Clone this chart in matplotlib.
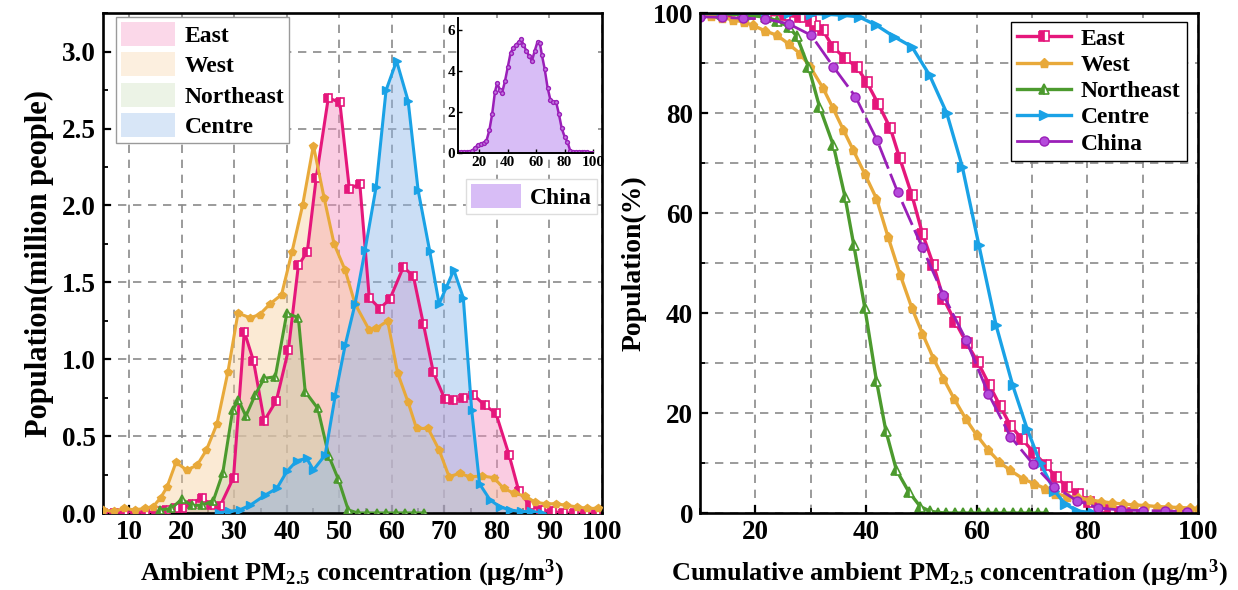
import numpy as np
import matplotlib
matplotlib.use("Agg")
import matplotlib.pyplot as plt
from matplotlib.patches import Patch
from matplotlib.ticker import MultipleLocator, FormatStrFormatter

plt.rcParams['font.family'] = ['Liberation Serif', 'DejaVu Serif']
plt.rcParams['font.weight'] = 'bold'
plt.rcParams['axes.labelweight'] = 'bold'
plt.rcParams['mathtext.fontset'] = 'custom'
plt.rcParams['mathtext.rm'] = 'Liberation Serif:bold'
plt.rcParams['mathtext.it'] = 'Liberation Serif:italic:bold'
plt.rcParams['mathtext.bf'] = 'Liberation Serif:bold'

# colours
pink = "#E5177B"
gold = "#E8A93A"
green = "#4C9A2E"
blue = "#1AA2E6"
purple = "#9A1FB8"

# ---- left panel: population distribution (million people) ----
east_x = [5, 7, 9, 11, 13, 15, 17, 18.8, 20, 21.9, 23.8, 25.6, 27.3, 29.85, 31.9, 33.65, 35.7, 38, 40.3,
          42.2, 43.9, 45.6, 47.9, 50.1, 51.9, 53.9, 55.7, 57.7, 59.6, 62.2, 64.1, 66, 67.9, 70.1, 71.7,
          73.6, 75.5, 77.7, 79.8, 82.3, 84.2, 86.3, 88.4, 90.5, 92.6, 94.7, 96.8, 98.9]
east_y = [0, 0, 0, 0, 0, 0.01, 0.02, 0.03, 0.03, 0.06, 0.10, 0.05, 0.045, 0.23, 1.18, 0.99, 0.60, 0.73, 1.06,
          1.61, 1.70, 2.18, 2.70, 2.67, 2.11, 2.14, 1.40, 1.33, 1.39, 1.60, 1.54, 1.23, 0.915, 0.74, 0.735,
          0.745, 0.77, 0.70, 0.65, 0.38, 0.14, 0.05, 0.02, 0.01, 0, 0, 0, 0]

west_x = [5, 7, 9, 11, 13, 14.5, 16, 17.2, 18.9, 20.9, 22.9, 24.7, 26.7, 28.8, 30.7, 33, 34.8, 36.8, 39,
          41, 43, 45.06, 47.1, 49, 51.1, 53, 55.7, 57, 59.2, 61.1, 63.1, 64.7, 66.9, 69, 70.9, 72.9, 74.8,
          77.2, 79.4, 81.3, 83.2, 85.4, 87.3, 89.3, 91.3, 93.2, 95.2, 97.2, 99.2]
west_y = [0.02, 0.01, 0.03, 0.02, 0.03, 0.04, 0.10, 0.17, 0.33, 0.28, 0.31, 0.41, 0.58, 0.92, 1.30, 1.27,
          1.29, 1.36, 1.42, 1.70, 2.0, 2.39, 2.05, 1.75, 1.58, 1.36, 1.19, 1.20, 1.25, 0.91, 0.72, 0.55,
          0.55, 0.41, 0.236, 0.258, 0.236, 0.24, 0.23, 0.16, 0.13, 0.11, 0.07, 0.06, 0.06, 0.05, 0.04,
          0.03, 0.03]

ne_x = [15.9, 18, 20, 21.9, 23.8, 26, 27.8, 29.7, 30.8, 32.2, 34, 35.7, 37.8, 40, 42.2, 43.5, 45.9, 48,
        49.8, 51.7, 53.5, 55.3, 57.1, 58.9, 60.7, 62.5, 64.3, 66.1]
ne_y = [0.02, 0.03, 0.09, 0.05, 0.05, 0.08, 0.26, 0.67, 0.735, 0.63, 0.77, 0.876, 0.886, 1.30, 1.27, 0.79,
        0.68, 0.37, 0.22, 0.02, 0, 0, 0, 0, 0, 0, 0, 0]

centre_x = [27, 29, 31, 33, 35.9, 38.1, 40, 41.9, 43.8, 45.06, 47.3, 49.2, 51.1, 53, 54.9, 57, 58.9, 60.9,
            63.1, 65, 67.2, 69, 70.4, 71.8, 73.6, 75.2, 76.7, 78.7, 80.6, 82.5, 84.5, 86.5, 88.5]
centre_y = [0, 0.01, 0.02, 0.05, 0.117, 0.16, 0.27, 0.34, 0.355, 0.28, 0.377, 0.76, 1.09, 1.36, 1.71, 2.12,
            2.75, 2.94, 2.68, 2.10, 1.705, 1.36, 1.47, 1.58, 1.40, 0.67, 0.19, 0.085, 0.04, 0.02, 0.01,
            0.01, 0]

china_x = [5, 7, 9, 11, 13, 15, 17, 19, 21, 23, 25, 27, 29, 31, 32.5, 34.5, 36, 38, 40, 42, 44, 46, 48,
           49.5, 51, 53, 55, 57, 59, 61, 62.5, 64, 66, 68, 70, 72, 74, 76, 78, 80, 82, 84, 86, 88, 90,
           92, 94, 96, 98, 100]
china_y = [0.03, 0.03, 0.04, 0.04, 0.06, 0.12, 0.25, 0.4, 0.45, 0.5, 0.6, 1.1, 1.9, 3.0, 3.4, 3.1, 2.95,
           3.5, 4.2, 4.9, 5.15, 5.3, 5.45, 5.55, 5.3, 5.0, 4.75, 4.5, 5.0, 5.45, 5.4, 4.8, 4.1, 3.2, 2.6,
           2.5, 2.5, 1.9, 1.2, 0.8, 0.55, 0.1, 0.05, 0.05, 0.04, 0.04, 0.03, 0.03, 0.02, 0.02]

# ---- right panel: cumulative population (%) ----
r_east_x = [10, 13, 16, 19, 22, 25.4, 28, 30, 30.8, 32.2, 34, 36.2, 38.3, 40.1, 42.2, 44.4, 46.1, 48.3,
            50.2, 52.2, 54, 56.1, 58.2, 60.2, 62.3, 64.2, 66.1, 68.2, 70.4, 72.5, 74.3, 76.4, 78.3, 80.3,
            82.2, 84.1, 86, 88]
r_east_y = [100, 100, 100, 99.9, 99.8, 99.6, 99.3, 98.5, 97.5, 96.6, 93.3, 91, 89.3, 86.3, 81.9, 77, 71,
            63.6, 55.9, 49.6, 42.9, 38.3, 34, 30.2, 25.6, 21.5, 17.5, 14.8, 12, 9.6, 7.2, 5.2, 3.8, 2.3,
            1.2, 0.6, 0.3, 0.1]

r_west_x = [10, 12, 14, 16, 18, 19.6, 21.7, 23.9, 26, 28.1, 29.9, 32.2, 34, 35.9, 37.7, 39.8, 41.9, 44,
            46.2, 48.3, 50.2, 52.2, 54, 55.9, 58, 60, 62.1, 64.1, 66, 68.3, 70.3, 72.4, 74.2, 76.3, 78.4,
            80.5, 82.5, 84.5, 86.5, 88.5, 90.5, 92.5, 94.5, 96.5, 98.5, 100]
r_west_y = [99.6, 99.4, 99.1, 98.7, 98.2, 97.6, 96.5, 95.6, 93.9, 91.9, 89.3, 85.1, 81.1, 76.7, 72.6, 67.8,
            62.9, 55.2, 47.6, 41, 35.9, 30.9, 26.9, 22.9, 18.9, 15.6, 12.6, 10.2, 8.6, 6.9, 5.9, 4.9, 3.9,
            3.3, 3.1, 2.6, 2.3, 2.0, 1.8, 1.6, 1.5, 1.3, 1.2, 1.1, 1.0, 0.9]

r_ne_x = [10, 14, 18, 22, 24, 26, 27.5, 29.6, 31.6, 34.1, 36.2, 37.8, 39.8, 41.9, 43.6, 45.5, 47.7, 49.8,
          51.5, 53, 54.5, 56, 57.5, 59, 60.5, 62, 63.5, 65, 66.5, 68, 69.5, 71, 72.5]
r_ne_y = [100, 99.9, 99.7, 99.2, 98.5, 97.3, 95.4, 89.3, 81.3, 73.6, 63.3, 53.6, 41, 26.4, 16.4, 8.6, 4.3,
          1.3, 0.4, 0.1, 0, 0, 0, 0, 0, 0, 0, 0, 0, 0, 0, 0, 0]

r_centre_x = [10, 14, 18, 22, 26, 30, 33, 35.8, 38.7, 41.9, 45.1, 48.3, 51.5, 54.6, 57.4, 60.4, 63.5,
              66.5, 69.1, 71.5, 74, 76, 78.2, 81]
r_centre_y = [100, 100, 100, 100, 100, 99.95, 99.8, 99.6, 99.3, 97.6, 95.3, 93.3, 87.6, 80, 69.3, 53.6,
              37.6, 25.6, 16.9, 10, 4.5, 1.8, 0.4, 0.05]

r_china_x = [10, 13.9, 17.8, 21.7, 26, 30.1, 34.1, 38.1, 42, 45.7, 50.1, 54, 58.1, 62.1, 66.1, 70.1, 74,
             78.1, 82, 86, 90, 94, 98]
r_china_y = [99.3, 99.2, 99, 98.9, 97.9, 95.6, 89.3, 83.3, 74.6, 64.3, 53.3, 43.6, 34.6, 23.9, 15.3, 9.9,
             5.3, 2.5, 1.0, 0.6, 0.5, 0.4, 0.3]

fig = plt.figure(figsize=(12.38, 5.90), dpi=100)
ax1 = fig.add_axes([0.0832, 0.1305, 0.403, 0.847])
ax2 = fig.add_axes([0.5654, 0.1305, 0.4023, 0.847])

grid_kw = dict(color="#8a8a8a", linestyle=(0, (5, 4)), linewidth=1.2)


def style_axes(ax):
    for s in ax.spines.values():
        s.set_linewidth(1.9)
    ax.tick_params(which='major', direction='in', length=6, width=1.6, labelsize=19.5, pad=5)
    ax.tick_params(which='minor', direction='in', length=3.5, width=1.3)
    for lab in ax.get_xticklabels() + ax.get_yticklabels():
        lab.set_fontweight('bold')


# ---- left panel ----
series = [
    ("East", east_x, east_y, pink, "#F48EC0", 0.45, 's'),
    ("West", west_x, west_y, gold, "#F7CC95", 0.40, 'p'),
    ("Northeast", ne_x, ne_y, green, "#B8D4A2", 0.35, '^'),
    ("Centre", centre_x, centre_y, blue, "#8DB6EA", 0.45, '>'),
]
for name, x, y, c, fc, a, m in series:
    ax1.fill_between(x, y, 0, color=fc, alpha=a, linewidth=0, zorder=1)
for name, x, y, c, fc, a, m in series:
    kw = dict(color=c, lw=2.2, marker=m, markersize=6, markeredgecolor=c, zorder=3)
    if m in ('s', '^'):
        kw.update(markerfacecolor=c, fillstyle='left', markerfacecoloralt='white', markeredgewidth=1.2)
    else:
        kw.update(markerfacecolor=c)
    ax1.plot(x, y, **kw)

ax1.set_xlim(5, 100)
ax1.set_ylim(0, 3.25)
ax1.xaxis.set_major_locator(MultipleLocator(10))
ax1.xaxis.set_minor_locator(MultipleLocator(5))
ax1.yaxis.set_major_locator(MultipleLocator(0.5))
ax1.yaxis.set_minor_locator(MultipleLocator(0.25))
ax1.yaxis.set_major_formatter(FormatStrFormatter('%.1f'))
ax1.grid(True, which='major', **grid_kw)
ax1.set_axisbelow(True)
style_axes(ax1)
ax1.set_xlabel(r"Ambient PM$_{\mathrm{2.5}}$ concentration (μg/m$^{\mathrm{3}}$)", fontsize=19, labelpad=9)
ax1.set_ylabel("Population(million people)", fontsize=22, labelpad=6)

leg_handles = [Patch(facecolor=fc, alpha=min(1, a * 0.75), edgecolor='none', label=n)
               for n, x, y, c, fc, a, m in series]
leg1 = ax1.legend(handles=leg_handles, loc='upper left', bbox_to_anchor=(0.026, 0.992),
                  fontsize=17, frameon=True, fancybox=False, framealpha=1, edgecolor="#9a9a9a",
                  handlelength=2.3, handleheight=1.2, labelspacing=0.22, borderpad=0.2,
                  handletextpad=0.4, borderaxespad=0)
leg1.get_frame().set_linewidth(1.0)
leg1.set_zorder(5)

china_leg = ax1.legend(handles=[Patch(facecolor="#D8BDF6", edgecolor='none', label="China")],
                       loc='upper left', bbox_to_anchor=(0.728, 0.668), fontsize=17, frameon=True,
                       fancybox=False, framealpha=1, edgecolor="#dddddd", handlelength=2.1,
                       handleheight=1.2, borderpad=0.2, handletextpad=0.4, borderaxespad=0)
ax1.add_artist(leg1)

# inset: China distribution
axin = fig.add_axes([0.370, 0.7407, 0.109, 0.2288])
axin.fill_between(china_x, china_y, 0, color="#D8BDF6", linewidth=0)
axin.plot(china_x, china_y, color=purple, lw=1.8, marker='o', markersize=2.8,
          markerfacecolor="#C27BE0", markeredgecolor=purple)
axin.set_xlim(5, 100)
axin.set_ylim(0, 6.6)
axin.set_xticks([20, 40, 60, 80, 100])
axin.set_yticks([0, 2, 4, 6])
axin.spines['top'].set_visible(False)
axin.spines['right'].set_visible(False)
for s in ('left', 'bottom'):
    axin.spines[s].set_linewidth(1.4)
axin.tick_params(direction='in', length=3, width=1, labelsize=11, pad=2)
for lab in axin.get_xticklabels() + axin.get_yticklabels():
    lab.set_fontweight('bold')

# ---- right panel ----
r_series = [
    ("East", r_east_x, r_east_y, pink, 's', '-'),
    ("West", r_west_x, r_west_y, gold, 'p', '-'),
    ("Northeast", r_ne_x, r_ne_y, green, '^', '-'),
    ("Centre", r_centre_x, r_centre_y, blue, '>', '-'),
    ("China", r_china_x, r_china_y, purple, 'o', (0, (9, 2))),
]
lines = []
for name, x, y, c, m, ls in r_series:
    kw = dict(color=c, lw=2.4, marker=m, markersize=6.5, markeredgecolor=c, linestyle=ls, label=name)
    if m in ('s', '^'):
        kw.update(markerfacecolor=c, fillstyle='left', markerfacecoloralt='white', markeredgewidth=1.2)
    elif m == 'o':
        kw.update(markerfacecolor="#B54ADB", markersize=6.5, lw=2.0)
    else:
        kw.update(markerfacecolor=c)
    ln, = ax2.plot(x, y, **kw)
    lines.append(ln)

ax2.set_xlim(10, 100)
ax2.set_ylim(0, 100)
ax2.xaxis.set_major_locator(MultipleLocator(20))
ax2.xaxis.set_minor_locator(MultipleLocator(10))
ax2.yaxis.set_major_locator(MultipleLocator(20))
ax2.yaxis.set_minor_locator(MultipleLocator(10))
ax2.grid(True, which='both', **grid_kw)
ax2.set_axisbelow(True)
style_axes(ax2)
ax2.set_xlabel(r"Cumulative ambient PM$_{\mathrm{2.5}}$ concentration (μg/m$^{\mathrm{3}}$)", fontsize=19,
               labelpad=9)
ax2.set_ylabel("Population(%)", fontsize=20, labelpad=4)

leg2 = ax2.legend(handles=lines, loc='upper right', bbox_to_anchor=(0.977, 0.982), fontsize=17,
                  frameon=True, fancybox=False, framealpha=1, edgecolor="black", handlelength=2.3,
                  labelspacing=0.2, borderpad=0.25, handletextpad=0.4, borderaxespad=0)
leg2.get_frame().set_linewidth(1.0)
for h in leg2.legend_handles:
    h.set_linestyle('-')

fig.savefig("out.png", dpi=100)
